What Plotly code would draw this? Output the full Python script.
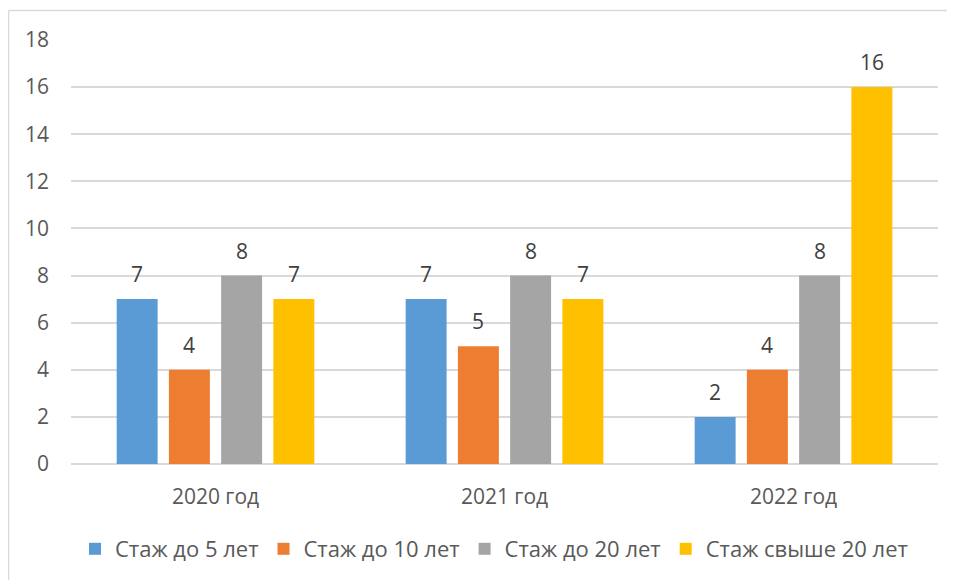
import plotly.graph_objects as go

categories = ["2020 год", "2021 год", "2022 год"]
series_names = ["Стаж до 5 лет", "Стаж до 10 лет", "Стаж до 20 лет", "Стаж свыше 20 лет"]
s1 = [7, 7, 2]
s2 = [4, 5, 4]
s3 = [8, 8, 8]
s4 = [7, 7, 16]
colors = ["#5B9BD5", "#ED7D31", "#A5A5A5", "#FFC000"]

FONT = "Open Sans, Liberation Sans, sans-serif"
FS = 21

# page is rendered with an 8px body margin, so screen px -> figure px = screen - 8
OFF = 8
W, H = 955, 580
L, R, T, B = 71 - OFF, 955 - (938 - OFF), 40 - OFF, 580 - (464 - OFF)
pw, ph = W - L - R, H - T - B

def px_x(p):
    return (p - OFF - L) / pw

def px_y(p):
    return (H - B - (p - OFF)) / ph

BARGAP = 0.277
GROUPGAP = 0.216
slot_px = pw / len(categories) * (1 - BARGAP) / len(series_names)

fig = go.Figure()
annotations = []
for i, (name, vals, col) in enumerate(zip(series_names, [s1, s2, s3, s4], colors)):
    fig.add_trace(go.Bar(
        x=categories, y=vals, name=name,
        marker=dict(color=col, line=dict(width=0)),
    ))
    for c, v in zip(categories, vals):
        annotations.append(dict(
            x=c, y=v, xref="x", yref="y", text=str(v), showarrow=False,
            xshift=(i - (len(series_names) - 1) / 2) * slot_px,
            yanchor="bottom", yshift=9,
            font=dict(size=FS, color="#404040", family=FONT),
        ))

fig.update_layout(
    width=W, height=H,
    margin=dict(l=L, r=R, t=T, b=B),
    paper_bgcolor="white", plot_bgcolor="white",
    barmode="group", bargap=BARGAP, bargroupgap=GROUPGAP,
    font=dict(family=FONT, size=FS, color="#595959"),
    showlegend=True,
    legend=dict(orientation="h", x=px_x(494), xanchor="center", y=px_y(549), yanchor="middle",
                font=dict(size=22, color="#595959"), traceorder="normal"),
    xaxis=dict(showgrid=False, showline=False, ticks="", ticklabelstandoff=18,
               tickfont=dict(size=FS, color="#595959")),
    yaxis=dict(range=[0, 18], dtick=2, showgrid=True, gridcolor="#D9D9D9", gridwidth=1.5,
               zeroline=True, zerolinecolor="#D9D9D9", zerolinewidth=1.5,
               showline=False, ticks="", ticklabelstandoff=21,
               tickfont=dict(size=FS, color="#595959")),
    annotations=annotations,
    shapes=[
        dict(type="line", xref="paper", yref="paper", x0=px_x(8.5), x1=px_x(970), y0=px_y(10.5), y1=px_y(10.5),
             line=dict(color="#D9D9D9", width=1.5)),
        dict(type="line", xref="paper", yref="paper", x0=px_x(8.5), x1=px_x(8.5), y0=px_y(10.5), y1=px_y(600),
             line=dict(color="#D9D9D9", width=1.5)),
    ],
)

fig.write_html("out.html")
